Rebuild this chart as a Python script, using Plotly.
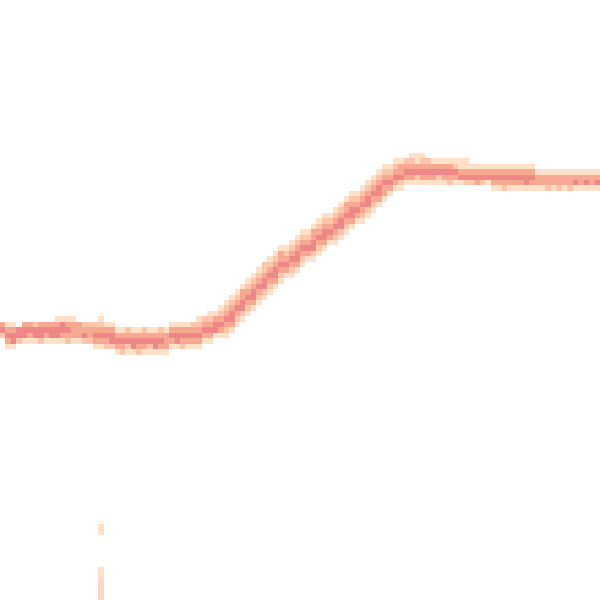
import plotly.graph_objects as go

# grid size (bins per axis)
n_bins = 110

# per-column: top row (counted from the top) of the filled cells
col_top = [
    59, 59, 59, 60, 59, 59, 59, 59, 59, 59,
    58, 58, 58, 58, 59, 59, 59, 59, 58, 59,
    59, 60, 60, 60, 60, 60, 60, 60, 60, 60,
    60, 59, 59, 59, 59, 59, 58, 58, 57, 57,
    56, 55, 54, 53, 52, 51, 50, 49, 48, 47,
    46, 45, 45, 44, 43, 42, 42, 41, 40, 39,
    39, 38, 37, 36, 35, 35, 34, 33, 32, 31,
    30, 30, 29, 29, 29, 28, 28, 28, 29, 29,
    29, 29, 29, 29, 29, 29, 30, 30, 30, 30,
    30, 30, 30, 30, 30, 30, 30, 30, 31, 31,
    31, 31, 31, 31, 31, 31, 31, 31, 31, 31,
]

# per-column: density level of each filled cell, from the top row downwards
col_levels = [
    "342", "13431", "13441", "442", "3441", "3431", "2441", "3442", "3431", "3441",
    "13441", "14431", "13432", "13331", "3331", "2342", "2332", "23431", "123431", "13432",
    "13442", "13431", "13432", "23421", "13441", "13432", "23431", "13421", "13441", "23431",
    "13331", "13431", "13441", "13432", "13431", "23431", "123431", "23431", "123431", "13441",
    "123431", "1234321", "1234431", "1234321", "1334421", "1234321", "1234431", "1234321", "2234421", "1234321",
    "1234431", "1334321", "123431", "1234321", "1234431", "1234321", "123431", "1334421", "1234321", "1234431",
    "123431", "1234321", "1234421", "1334321", "1234431", "123431", "1234321", "1234421", "1234321", "1234431",
    "1234331", "123431", "123431", "133421", "23431", "123431", "113421", "123431", "23431", "13431",
    "13421", "13431", "13432", "12431", "11341", "11342", "1342", "1343", "1342", "1341",
    "13431", "13431", "13432", "13431", "13431", "13431", "13441", "13431", "1331", "1331",
    "1332", "1331", "1332", "1331", "1332", "1341", "1331", "1341", "1331", "1341",
]

# isolated cells below the curve: (column, row, level)
extra_cells = [
    (18, 96, 1), (18, 97, 1),
    (18, 104, 1), (18, 105, 1), (18, 106, 1.3), (18, 107, 1.3), (18, 108, 1.3), (18, 109, 1.3),
]

z = [[None] * n_bins for _ in range(n_bins)]
for c, (top, lv) in enumerate(zip(col_top, col_levels)):
    for i, ch in enumerate(lv):
        z[top + i][c] = int(ch)
for c, r, v in extra_cells:
    z[r][c] = v

colorscale = [
    [0.0, "#FFE0C9"],
    [0.333, "#FCC6AD"],
    [0.667, "#F7A892"],
    [1.0, "#EE8787"],
]

fig = go.Figure(
    go.Heatmap(
        z=z,
        x=list(range(n_bins)),
        y=list(range(n_bins)),
        colorscale=colorscale,
        zmin=1,
        zmax=4,
        showscale=False,
        hoverongaps=False,
    )
)
fig.update_layout(
    width=600,
    height=600,
    margin=dict(l=0, r=0, t=0, b=0),
    paper_bgcolor="white",
    plot_bgcolor="white",
    xaxis=dict(visible=False, range=[-0.5, n_bins - 0.5]),
    yaxis=dict(visible=False, range=[n_bins - 0.5, -0.5]),
)
fig.write_html(
    "out.html",
    config={"displayModeBar": False},
    post_script="document.body.style.margin='0';document.body.style.padding='0';",
)
